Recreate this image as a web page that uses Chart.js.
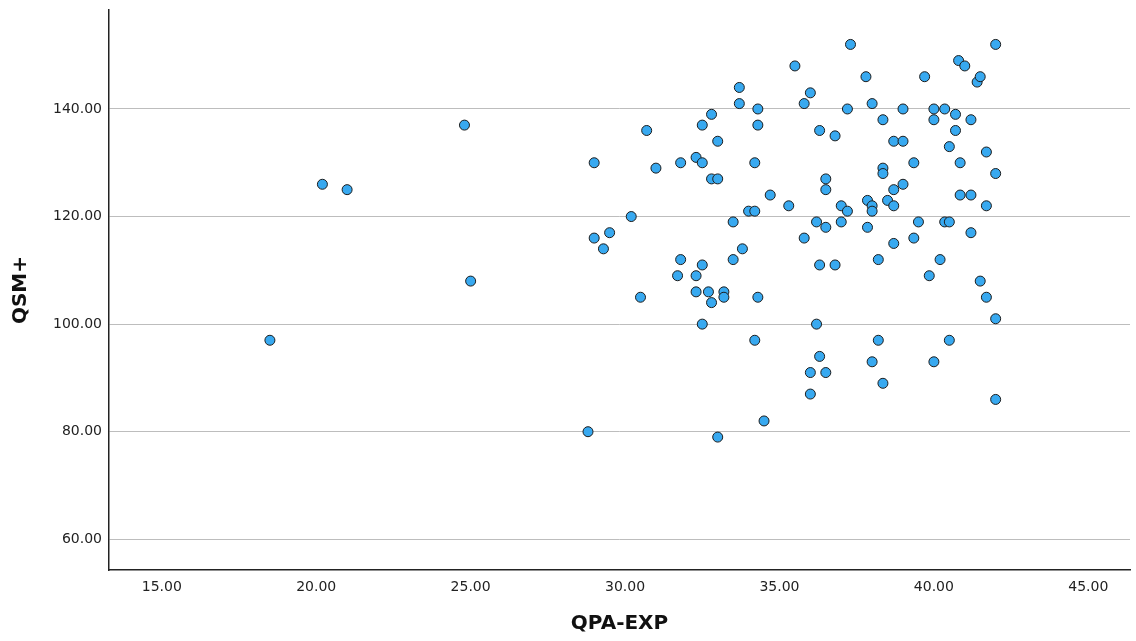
<!DOCTYPE html>
<html>
<head>
<meta charset="utf-8">
<script src="https://cdn.jsdelivr.net/npm/chart.js@4/dist/chart.umd.min.js"></script>
<style>
  html, body { margin: 0; padding: 0; background: #ffffff; overflow: hidden; }
  #wrap { position: relative; width: 100vw; height: 100vh; overflow: hidden; }
</style>
</head>
<body>
<div id="wrap"><canvas id="c"></canvas></div>
<script>
const xLabel = "QPA-EXP";
const yLabel = "QSM+";
const xTicks = [15, 20, 25, 30, 35, 40, 45];
const yTicks = [60, 80, 100, 120, 140];

const qpaExp = [
  18.5, 20.2, 21, 24.8, 25, 28.8, 29, 29, 29.3, 29.5,
  30.2, 30.5, 30.7, 31, 31.7, 31.8, 31.8, 32.3, 32.3, 32.3,
  32.5, 32.5, 32.5, 32.5, 32.7, 32.8, 32.8, 32.8, 33, 33,
  33, 33.2, 33.2, 33.5, 33.5, 33.7, 33.7, 33.8, 34.0, 34.2,
  34.2, 34.2, 34.3, 34.3, 34.3, 34.5, 34.7, 35.3, 35.5, 35.8,
  35.8, 36.0, 36.0, 36.0, 36.2, 36.2, 36.3, 36.3, 36.3, 36.5,
  36.5, 36.5, 36.5, 36.8, 36.8, 37.0, 37.0, 37.2, 37.2, 37.3,
  37.8, 37.85, 37.85, 38, 38, 38, 38, 38.2, 38.2, 38.35,
  38.35, 38.35, 38.35, 38.5, 38.7, 38.7, 38.7, 38.7, 39, 39,
  39, 39.35, 39.35, 39.5, 39.7, 39.85, 40, 40, 40, 40.2,
  40.35, 40.35, 40.5, 40.5, 40.5, 40.7, 40.7, 40.8, 40.85, 40.85,
  41, 41.2, 41.2, 41.2, 41.4, 41.5, 41.5, 41.7, 41.7, 41.7,
  42, 42, 42, 42
];
const qsmPlus = [
  97, 126, 125, 137, 108, 80, 130, 116, 114, 117,
  120, 105, 136, 129, 109, 112, 130, 131, 109, 106,
  137, 130, 111, 100, 106, 139, 127, 104, 134, 127,
  79, 106, 105, 119, 112, 144, 141, 114, 121, 121,
  130, 97, 140, 137, 105, 82, 124, 122, 148, 141,
  116, 143, 91, 87, 119, 100, 136, 111, 94, 127,
  125, 118, 91, 135, 111, 122, 119, 140, 121, 152,
  146, 123, 118, 141, 122, 121, 93, 112, 97, 138,
  129, 128, 89, 123, 134, 125, 122, 115, 140, 134,
  126, 130, 116, 119, 146, 109, 140, 138, 93, 112,
  140, 119, 133, 119, 97, 139, 136, 149, 130, 124,
  148, 138, 124, 117, 145, 146, 108, 132, 122, 105,
  152, 128, 101, 86
];

const points = qpaExp.map((x, i) => ({ x: x, y: qsmPlus[i] }));
const tickFont = { family: "DejaVu Sans", size: 14 };
const titleFont = { family: "DejaVu Sans", size: 20, weight: "bold" };

function noAutoPadding(s) {
  s._calculatePadding = function () {
    this.paddingLeft = 0; this.paddingRight = 0;
    this.paddingTop = 0; this.paddingBottom = 0;
  };
}

new Chart(document.getElementById("c"), {
  type: "scatter",
  data: {
    datasets: [{
      data: points,
      backgroundColor: "#38a9f0",
      borderColor: "#1c1c1c",
      borderWidth: 1,
      pointRadius: 5,
      pointHoverRadius: 5
    }]
  },
  options: {
    responsive: true,
    maintainAspectRatio: false,
    animation: false,
    devicePixelRatio: 1,
    layout: { padding: { left: 0, right: 0, top: 10, bottom: 0 } },
    plugins: { legend: { display: false }, tooltip: { enabled: false } },
    scales: {
      x: {
        type: "linear",
        min: 13.29,
        max: 46.35,
        afterBuildTicks: (s) => { s.ticks = xTicks.map(v => ({ value: v })); },
        beforeFit: noAutoPadding,
        afterFit: (s) => { s.height = 71; s.paddingLeft = 0; s.paddingRight = 0; },
        grid: { display: false, drawTicks: false },
        border: { display: true, color: "#222222", width: 1.5 },
        ticks: {
          padding: 9,
          color: "#222222",
          font: tickFont,
          maxRotation: 0,
          autoSkip: false,
          callback: (v) => Number(v).toFixed(2)
        },
        title: { display: true, text: xLabel, color: "#111111", font: titleFont, padding: { top: 0, bottom: 5 } }
      },
      y: {
        type: "linear",
        min: 54.29,
        max: 158.4,
        afterBuildTicks: (s) => { s.ticks = yTicks.map(v => ({ value: v })); },
        beforeFit: noAutoPadding,
        afterFit: (s) => { s.width = 109; s.paddingTop = 0; s.paddingBottom = 0; },
        grid: { display: true, color: "#bdbdbd", lineWidth: 1, drawTicks: false },
        border: { display: true, color: "#222222", width: 1.5 },
        ticks: {
          padding: 7,
          color: "#222222",
          font: tickFont,
          autoSkip: false,
          callback: (v) => Number(v).toFixed(2)
        },
        title: { display: true, text: yLabel, color: "#111111", font: titleFont, padding: { top: 9, bottom: 0 } }
      }
    }
  }
});
</script>
</body>
</html>
